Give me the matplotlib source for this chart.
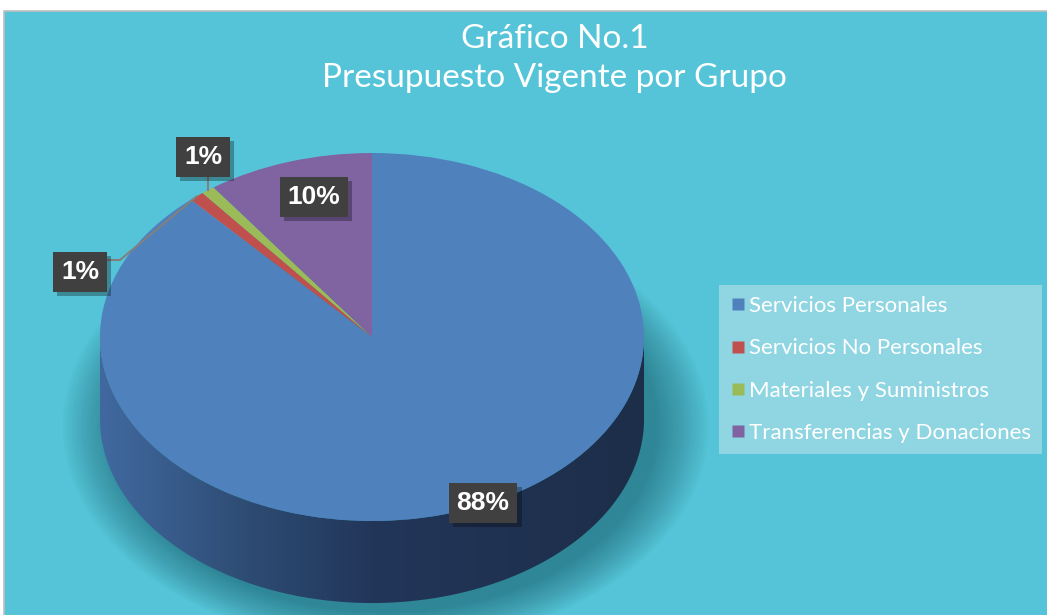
import numpy as np
import matplotlib.pyplot as plt
from matplotlib.patches import Polygon, Rectangle, Ellipse
from matplotlib.lines import Line2D
from matplotlib.colors import LinearSegmentedColormap
from matplotlib import patheffects

grupos = ['Servicios Personales', 'Servicios No Personales',
          'Materiales y Suministros', 'Transferencias y Donaciones']
porcentajes = [88.4, 0.9, 0.8, 9.9]
etiquetas = ['88%', '1%', '1%', '10%']
colores = ['#4F81BD', '#C0504D', '#9BBB59', '#8064A2']

titulo1 = 'Gráfico No.1'
titulo2 = 'Presupuesto Vigente por Grupo'

# layout in pixels
W, H = 1047, 615
CX, CY, RX, RY = 372, 337, 272, 184
DEPTH = 82 / RY
BG = '#55C4D8'


def px(x, y):
    return (x - CX) / RX, (CY - y) / RY


fig = plt.figure(figsize=(W / 100, H / 100), dpi=100, facecolor='white')

# chart area with a thin gray border on top/left
fondo = fig.add_axes([0, 0, 1, 1], zorder=-1)
fondo.set_xlim(0, W)
fondo.set_ylim(H, 0)
fondo.add_patch(Rectangle((4, 11), W + 10, H + 10, facecolor=BG,
                          edgecolor='#BFBFBF', linewidth=1.2))
fondo.axis('off')

ax = fig.add_axes([0, 0, 1, 1])
ax.set_facecolor('none')

# soft shadow under the pie
for k in range(18):
    s = 1.0 + 0.011 * k
    ax.add_patch(Ellipse((0.05, -DEPTH - 0.04), 2 * s, 2 * (s + 0.01),
                         facecolor='#0E4652', edgecolor='none', alpha=0.03,
                         zorder=1))

# side of the pie (front half only is visible)
t = np.linspace(np.pi, 2 * np.pi, 300)
borde_sup = np.column_stack([np.cos(t), np.sin(t)])
borde_inf = np.column_stack([np.cos(t[::-1]), np.sin(t[::-1]) - DEPTH])
lado = Polygon(np.vstack([borde_sup, borde_inf]), closed=True,
               facecolor='none', edgecolor='none', zorder=2)
ax.add_patch(lado)
cmap = LinearSegmentedColormap.from_list(
    'lado', [(0, '#4169A0'), (0.28, '#2D4B72'), (0.5, '#22365A'), (1, '#1D2E49')])
im = ax.imshow(np.linspace(0, 1, 256).reshape(1, -1), cmap=cmap,
               extent=(-1, 1, -1 - DEPTH, 0), aspect='auto', zorder=2)
im.set_clip_path(lado)

# top of the pie
wedges, _ = ax.pie(porcentajes, colors=colores, startangle=90,
                   counterclock=False, radius=1, center=(0, 0),
                   wedgeprops=dict(linewidth=0))
for w in wedges:
    w.set_zorder(3)


# leader lines for the two small slices
def punto_medio(w):
    a = np.deg2rad((w.theta1 + w.theta2) / 2)
    return np.cos(a), np.sin(a)


xr, yr = punto_medio(wedges[1])
ex, ey = px(120, 260)
bx, _ = px(108, 260)
ax.plot([xr, ex, bx], [yr, ey, ey], color='#808080', lw=1.5, zorder=4)

xg, yg = punto_medio(wedges[2])
_, by = px(0, 175)
ax.plot([xg, xg], [yg, by], color='#808080', lw=1.5, zorder=4)

# data labels
pos_etiquetas = [(483, 503), (80, 272), (203, 157), (314, 197)]
for et, (lx, ly) in zip(etiquetas, pos_etiquetas):
    x, y = px(lx, ly)
    txt = ax.text(x, y, et, ha='center', va='center', fontsize=19,
                  fontweight='bold', family='Liberation Sans', color='white',
                  zorder=6,
                  bbox=dict(boxstyle='square,pad=0.3', facecolor='#404040',
                            edgecolor='none', linewidth=0))
    txt.get_bbox_patch().set_path_effects([
        patheffects.SimplePatchShadow(offset=(3, -3), shadow_rgbFace='black',
                                      alpha=0.3),
        patheffects.Normal()])

# title
fig.text(555 / W, 1 - 48 / H, titulo1, ha='center', va='baseline',
         fontsize=24, color='white', family='Lato')
fig.text(554 / W, 1 - 87 / H, titulo2, ha='center', va='baseline',
         fontsize=24, color='white', family='Lato')

# legend
handles = [Line2D([], [], marker='s', linestyle='none', markersize=9,
                  markerfacecolor=c, markeredgecolor='none') for c in colores]
leg = ax.legend(handles, grupos, loc='upper left',
                bbox_to_anchor=(719 / W, 1 - 285 / H),
                bbox_transform=fig.transFigure, frameon=True, fancybox=False,
                facecolor='#8FD6E2', edgecolor='none', framealpha=1,
                borderpad=0.5, labelspacing=1.0, handlelength=0.75,
                handletextpad=0.1, borderaxespad=0,
                prop=dict(family='Lato', size=16))
for txt in leg.get_texts():
    txt.set_color('white')

ax.set_aspect('auto')
ax.set_xlim(px(0, 0)[0], px(W, 0)[0])
ax.set_ylim(px(0, H)[1], px(0, 0)[1])
ax.axis('off')

fig.savefig('out.png', dpi=100, facecolor=fig.get_facecolor())
